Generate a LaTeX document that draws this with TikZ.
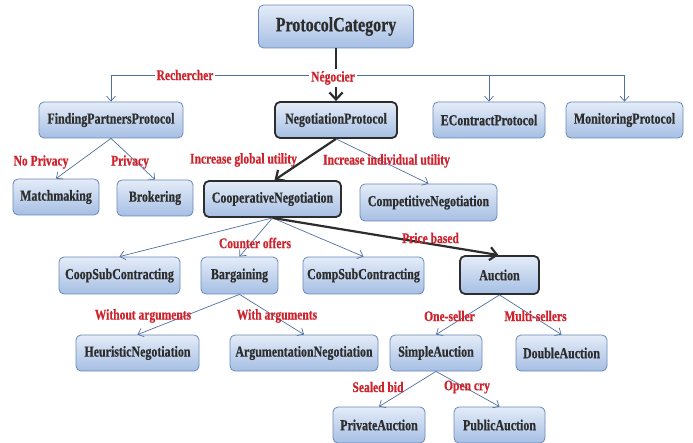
\documentclass[tikz,border=0pt]{standalone}
\usepackage{fontspec}
\setmainfont{Liberation Serif}[FakeStretch=0.78, BoldFeatures={FakeBold=0.6}]
\usetikzlibrary{arrows.meta}
\definecolor{boxtop}{RGB}{228,236,248}
\definecolor{boxbot}{RGB}{166,191,228}
\definecolor{boxline}{RGB}{105,135,185}
\definecolor{lbl}{RGB}{205,35,45}
\definecolor{txt}{RGB}{45,45,45}
\definecolor{wire}{RGB}{80,110,160}
\definecolor{dark}{RGB}{45,45,45}
\tikzset{
  cls/.style={draw=boxline, line width=0.8pt, rounded corners=5pt, top color=boxtop, bottom color=boxbot, text=txt, font=\fontsize{15.3}{17}\selectfont\bfseries, inner sep=0pt, align=center},
  keycls/.style={cls, draw=dark, line width=1.8pt},
  thinarr/.style={draw=wire, line width=0.7pt, -{Straight Barb[length=5pt,width=9pt]}},
  thickarr/.style={draw=dark, line width=2.2pt, -{Straight Barb[length=7pt,width=13pt]}},
  lab/.style={text=lbl, font=\fontsize{14.8}{17}\selectfont\bfseries, inner sep=1pt},
}
\begin{document}
\begin{tikzpicture}[x=1pt,y=-1pt]
\useasboundingbox (0,0) rectangle (693,443);
% nodes
\node[cls, minimum width=155pt, minimum height=43pt, font=\fontsize{20.5}{23}\selectfont\bfseries] (pc) at (336,26.5) {ProtocolCategory};
\node[cls, minimum width=144pt, minimum height=36pt] (fp) at (111,120) {FindingPartnersProtocol};
\node[keycls, minimum width=122pt, minimum height=36pt] (np) at (336,120) {NegotiationProtocol};
\node[cls, minimum width=112pt, minimum height=36pt] (ec) at (489,120) {EContractProtocol};
\node[cls, minimum width=117pt, minimum height=36pt] (mp) at (624.5,120) {MonitoringProtocol};
\node[cls, minimum width=86pt, minimum height=36pt] (mm) at (56,197) {Matchmaking};
\node[cls, minimum width=76pt, minimum height=36pt] (br) at (155,198) {Brokering};
\node[keycls, minimum width=137pt, minimum height=36pt] (cn) at (272.5,199) {CooperativeNegotiation};
\node[cls, minimum width=137pt, minimum height=37pt] (compn) at (428.5,202.5) {CompetitiveNegotiation};
\node[cls, minimum width=121pt, minimum height=37pt] (csc) at (119.5,275.5) {CoopSubContracting};
\node[cls, minimum width=77pt, minimum height=37pt] (bg) at (239.5,275.5) {Bargaining};
\node[cls, minimum width=121pt, minimum height=37pt] (compsc) at (363.5,275.5) {CompSubContracting};
\node[keycls, minimum width=79pt, minimum height=38pt] (au) at (499.5,275) {Auction};
\node[cls, minimum width=123pt, minimum height=36pt] (hn) at (137.5,353) {HeuristicNegotiation};
\node[cls, minimum width=148pt, minimum height=36pt] (an) at (304,353) {ArgumentationNegotiation};
\node[cls, minimum width=92pt, minimum height=36pt] (sa) at (436,353) {SimpleAuction};
\node[cls, minimum width=91pt, minimum height=36pt] (da) at (561.5,353) {DoubleAuction};
\node[cls, minimum width=92pt, minimum height=36pt] (pa) at (379,425) {PrivateAuction};
\node[cls, minimum width=91pt, minimum height=36pt] (pua) at (499.5,425) {PublicAuction};
% bus
\coordinate (bus) at (336,75);
\draw[thinarr] (bus) -| (fp.north);
\draw[thinarr] (bus) -| (ec.north);
\draw[thinarr] (bus) -| (mp.north);
\draw[thickarr] (pc.south) -- (np.north);
\node[lab, fill=white, inner sep=2pt] (lrech) at (185,75) {Rechercher};
\node[lab, fill=white, inner sep=2pt] (lneg) at (333,78) {Négocier};
% level 2
\draw[thinarr] (fp.south) -- (mm.north);
\draw[thinarr] (fp.south) -- (br.north);
\draw[thickarr] (np.south) -- ([xshift=2pt]cn.north);
\draw[thinarr] (np.south) -- (compn.north);
\node[lab] (lnop) at (41,162) {No Privacy};
\node[lab] (lpriv) at (130,162) {Privacy};
\node[lab] (lglob) at (243.5,160) {Increase global utility};
\node[lab] (lind) at (386.5,161) {Increase individual utility};
% level 3
\draw[thinarr] (cn.south) -- (csc.north);
\draw[thinarr] (cn.south) -- (bg.north);
\draw[thinarr] (cn.south) -- (compsc.north);
\draw[thickarr] (cn.south) -- ([xshift=-1pt]au.north);
\node[lab] (lcounter) at (255,243) {Counter offers};
\node[lab] (lprice) at (430.5,238) {Price based};
% level 4
\draw[thinarr] (bg.south) -- (hn.north);
\draw[thinarr] (bg.south) -- (an.north);
\draw[thinarr] (au.south) -- (sa.north);
\draw[thinarr] (au.south) -- (da.north);
\node[lab] (lwithout) at (143,316) {Without arguments};
\node[lab] (lwith) at (277,316) {With arguments};
\node[lab] (lone) at (449.5,316) {One-seller};
\node[lab] (lmulti) at (535.5,316) {Multi-sellers};
% level 5
\draw[thinarr] (sa.south) -- (pa.north);
\draw[thinarr] (sa.south) -- (pua.north);
\node[lab] (lsealed) at (378,387) {Sealed bid};
\node[lab] (lopen) at (467,387) {Open cry};
\end{tikzpicture}
\end{document}
